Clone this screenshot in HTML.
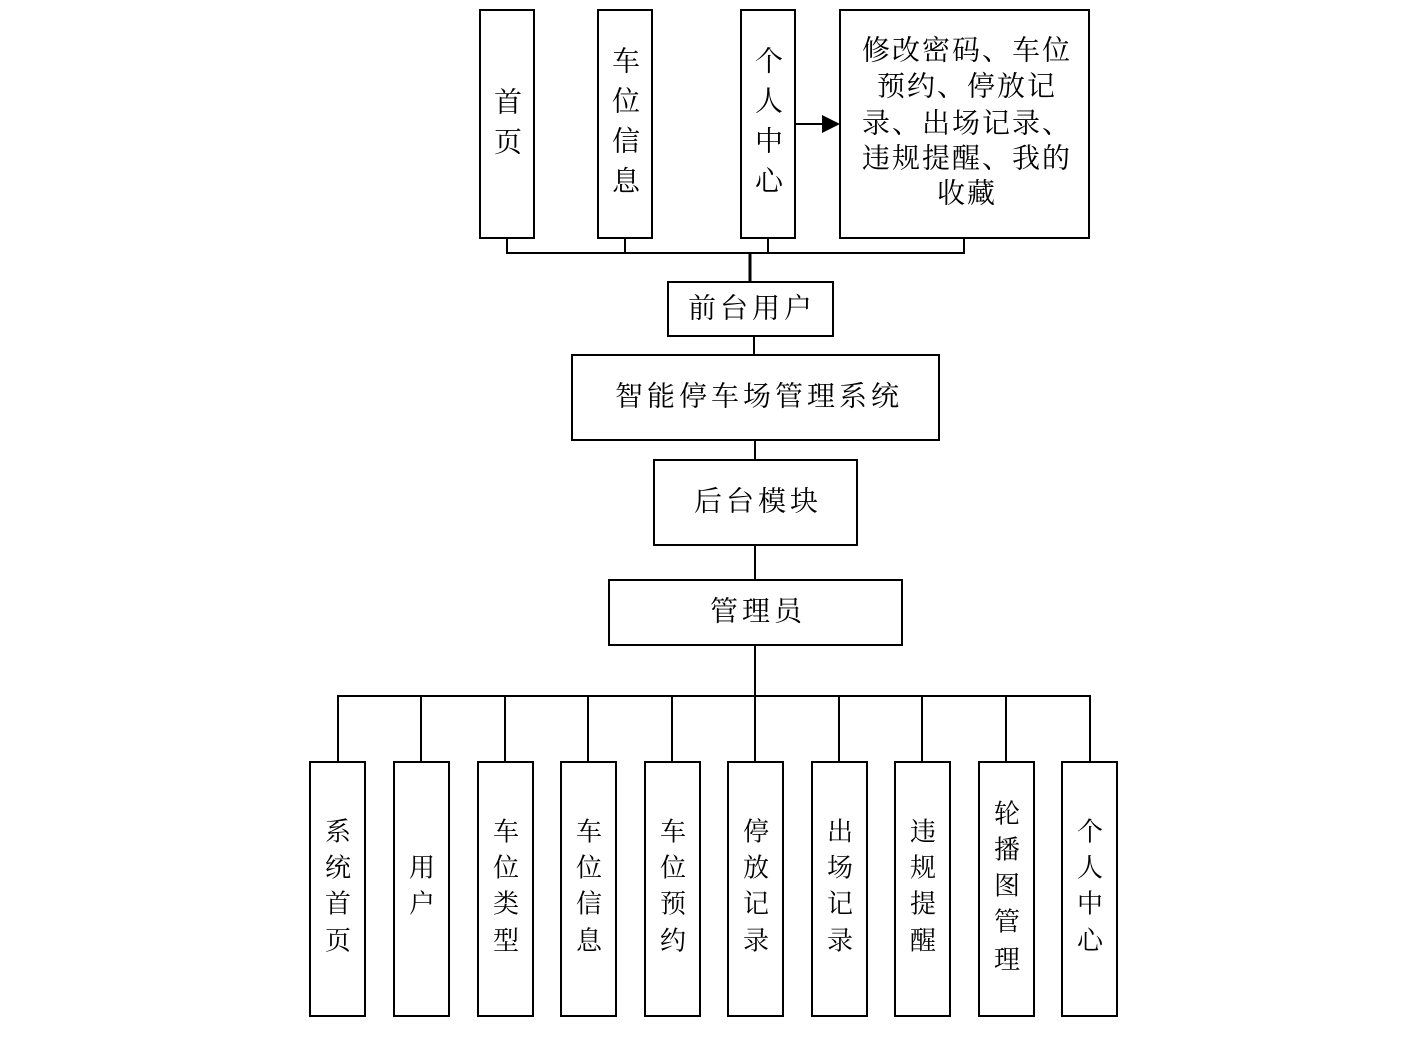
<!DOCTYPE html>
<html><head><meta charset="utf-8"><style>
body{margin:0;background:#fff;}
text{font-family:"Liberation Serif","Noto Serif CJK SC",serif;fill:#000;text-anchor:middle;dominant-baseline:central;}
</style></head><body>
<svg width="1419" height="1041" viewBox="0 0 1419 1041" xmlns="http://www.w3.org/2000/svg">
<g fill="none" stroke="#000" stroke-width="2">
<rect x="480" y="10" width="54" height="228"/>
<rect x="598" y="10" width="54" height="228"/>
<rect x="741" y="10" width="54" height="228"/>
<rect x="840" y="10" width="249" height="228"/>
<path d="M507 238V253H964V238M625 238V253M768 238V253"/>
<path d="M750 253V282" stroke-width="3"/>
<path d="M795 124H825"/>
<rect x="668" y="282" width="165" height="54"/>
<path d="M754 336V355"/>
<rect x="572" y="355" width="367" height="85"/>
<path d="M755 440V460"/>
<rect x="654" y="460" width="203" height="85"/>
<path d="M755 545V580"/>
<rect x="609" y="580" width="293" height="65"/>
<path d="M755 645V696M338 762V696H1090V762M421 696V762M505 696V762M588 696V762M672 696V762M755 696V762M839 696V762M922 696V762M1006 696V762"/>
<rect x="310" y="762" width="55" height="254"/>
<rect x="394" y="762" width="55" height="254"/>
<rect x="478" y="762" width="55" height="254"/>
<rect x="561" y="762" width="55" height="254"/>
<rect x="645" y="762" width="55" height="254"/>
<rect x="728" y="762" width="55" height="254"/>
<rect x="812" y="762" width="55" height="254"/>
<rect x="895" y="762" width="55" height="254"/>
<rect x="979" y="762" width="55" height="254"/>
<rect x="1062" y="762" width="55" height="254"/>
</g>
<path d="M822 115L840 124L822 133Z" fill="#000"/>
<g font-size="28">
<text x="508" y="103">首</text><text x="508" y="143">页</text>
<text x="626" y="62">车</text><text x="626" y="102">位</text><text x="626" y="142">信</text><text x="626" y="182">息</text>
<text x="769" y="62">个</text><text x="769" y="102">人</text><text x="769" y="142">中</text><text x="769" y="182">心</text>
</g>
<g font-size="28" letter-spacing="2">
<text x="967" y="51">修改密码、车位</text>
<text x="967" y="87">预约、停放记</text>
<text x="967" y="124">录、出场记录、</text>
<text x="967" y="159">违规提醒、我的</text>
<text x="967" y="194">收藏</text>
</g>
<g font-size="28" letter-spacing="4">
<text x="752" y="309">前台用户</text>
<text x="759" y="397">智能停车场管理系统</text>
<text x="758" y="502">后台模块</text>
<text x="758" y="612">管理员</text>
</g>
<g font-size="26">
<text x="338" y="832">系</text><text x="338" y="868">统</text><text x="338" y="904">首</text><text x="338" y="941">页</text>
<text x="422" y="868">用</text><text x="422" y="904">户</text>
<text x="506" y="832">车</text><text x="506" y="868">位</text><text x="506" y="904">类</text><text x="506" y="941">型</text>
<text x="589" y="832">车</text><text x="589" y="868">位</text><text x="589" y="904">信</text><text x="589" y="941">息</text>
<text x="673" y="832">车</text><text x="673" y="868">位</text><text x="673" y="904">预</text><text x="673" y="941">约</text>
<text x="756" y="832">停</text><text x="756" y="868">放</text><text x="756" y="904">记</text><text x="756" y="941">录</text>
<text x="840" y="832">出</text><text x="840" y="868">场</text><text x="840" y="904">记</text><text x="840" y="941">录</text>
<text x="923" y="832">违</text><text x="923" y="868">规</text><text x="923" y="904">提</text><text x="923" y="941">醒</text>
<text x="1007" y="814">轮</text><text x="1007" y="850">播</text><text x="1007" y="886">图</text><text x="1007" y="922">管</text><text x="1007" y="960">理</text>
<text x="1090" y="832">个</text><text x="1090" y="868">人</text><text x="1090" y="904">中</text><text x="1090" y="941">心</text>
</g>
</svg>
</body></html>
